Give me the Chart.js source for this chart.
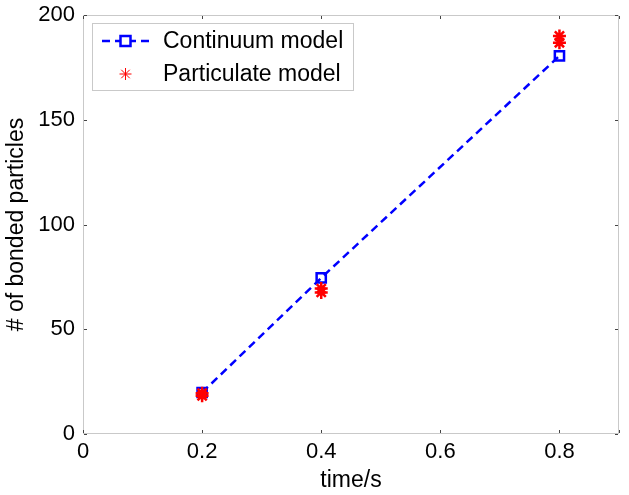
<!DOCTYPE html>
<html>
<head>
<meta charset="utf-8">
<script src="https://cdn.jsdelivr.net/npm/chart.js@4/dist/chart.umd.min.js"></script>
<style>
  html, body { margin: 0; padding: 0; background: #fff; }
  #wrap { width: 629px; height: 495px; }
</style>
</head>
<body>
<div id="wrap"><canvas id="c" width="629" height="495"></canvas></div>
<script>
// ---- data ----
const seriesNames = ['Continuum model', 'Particulate model'];
const continuumTime = [0.2, 0.4, 0.8];
const continuumCount = [19.8, 74.5, 180.5];
const particulateTime = [0.2, 0.2, 0.4, 0.4, 0.8, 0.8];
const particulateCount = [18.2, 19.5, 67.6, 69.4, 186.8, 190.0];
const xTicks = [0, 0.2, 0.4, 0.6, 0.8];
const yTicks = [0, 50, 100, 150, 200];
const xLabel = 'time/s';
const yLabel = '# of bonded particles';

const FONT = 'Arial, "Liberation Sans", Helvetica, sans-serif';
const BLUE = '#0000ff';
const RED = '#ff0000';

const toPts = (xs, ys) => xs.map((x, i) => ({ x: x, y: ys[i] }));

const boxPlugin = {
  id: 'boxAndTicks',
  afterDatasetsDraw(chart) {
    const { ctx, chartArea: a, scales } = chart;
    ctx.save();
    ctx.strokeStyle = '#c9c9c9';
    ctx.lineWidth = 1;
    ctx.strokeRect(a.left + 0.5, a.top + 0.5, a.right - a.left - 1, a.bottom - a.top - 1);
    ctx.strokeStyle = '#444';
    ctx.beginPath();
    const tl = 3;
    xTicks.concat([0.9]).forEach(v => {
      const px = Math.round(scales.x.getPixelForValue(v)) + 0.5;
      ctx.moveTo(px, a.bottom - 1); ctx.lineTo(px, a.bottom - 1 - tl);
      ctx.moveTo(px, a.top + 1); ctx.lineTo(px, a.top + 1 + tl);
    });
    yTicks.forEach(v => {
      const py = Math.round(scales.y.getPixelForValue(v)) + 0.5;
      ctx.moveTo(a.left + 1, py); ctx.lineTo(a.left + 1 + tl, py);
      ctx.moveTo(a.right - 1, py); ctx.lineTo(a.right - 1 - tl, py);
    });
    ctx.stroke();
    ctx.restore();
  },
  afterDraw(chart) {
    const { ctx, chartArea: a } = chart;
    const ds = chart.data.datasets;
    const bx = a.left + 9, by = a.top + 8, bw = 261, bh = 67;
    ctx.save();
    ctx.fillStyle = '#fff';
    ctx.fillRect(bx, by, bw, bh);
    ctx.strokeStyle = '#c9c9c9';
    ctx.lineWidth = 1;
    ctx.strokeRect(bx + 0.5, by + 0.5, bw, bh);
    const rows = [by + 18, by + 51];
    const lx0 = bx + 10, lx1 = bx + 57, mx = (lx0 + lx1) / 2;
    ctx.strokeStyle = ds[0].borderColor;
    ctx.lineWidth = 2.5;
    ctx.setLineDash([8, 5]);
    ctx.beginPath(); ctx.moveTo(lx0, rows[0]); ctx.lineTo(lx1, rows[0]); ctx.stroke();
    ctx.setLineDash([]);
    ctx.fillStyle = '#fff';
    ctx.fillRect(mx - 5, rows[0] - 5, 10, 10);
    ctx.strokeRect(mx - 5, rows[0] - 5, 10, 10);
    ctx.strokeStyle = ds[1].borderColor;
    ctx.lineWidth = 1;
    ctx.beginPath();
    const r = 6;
    for (let k = 0; k < 4; k++) {
      const ang = k * Math.PI / 4;
      ctx.moveTo(mx - r * Math.cos(ang), rows[1] - r * Math.sin(ang));
      ctx.lineTo(mx + r * Math.cos(ang), rows[1] + r * Math.sin(ang));
    }
    ctx.stroke();
    ctx.fillStyle = '#000';
    ctx.font = '23px ' + FONT;
    ctx.textBaseline = 'middle';
    ctx.textAlign = 'left';
    ctx.fillText(seriesNames[0], bx + 71, rows[0] + 1);
    ctx.fillText(seriesNames[1], bx + 71, rows[1] + 1);
    ctx.restore();
  }
};

new Chart(document.getElementById('c'), {
  type: 'scatter',
  data: {
    datasets: [
      {
        label: seriesNames[0],
        data: toPts(continuumTime, continuumCount),
        showLine: true,
        borderColor: BLUE,
        backgroundColor: 'rgba(0,0,0,0)',
        borderWidth: 2.5,
        borderDash: [8, 5],
        pointStyle: 'rect',
        pointRadius: 6.5,
        pointBorderWidth: 2.5,
        pointBorderColor: BLUE,
        pointBackgroundColor: 'rgba(0,0,0,0)',
        order: 1
      },
      {
        label: seriesNames[1],
        data: toPts(particulateTime, particulateCount),
        showLine: false,
        borderColor: RED,
        backgroundColor: RED,
        pointStyle: 'star',
        pointRadius: 6.5,
        pointBorderWidth: 2.5,
        pointBorderColor: RED,
        order: 0
      }
    ]
  },
  options: {
    responsive: false,
    animation: false,
    devicePixelRatio: 1,
    layout: { padding: { top: 15, right: 10, left: 0, bottom: 0 } },
    plugins: { legend: { display: false }, tooltip: { enabled: false } },
    scales: {
      x: {
        type: 'linear',
        min: 0, max: 0.9,
        afterBuildTicks: s => { s.ticks = xTicks.map(v => ({ value: v })); },
        afterFit: s => { s.height = 61; s.paddingLeft = 0; s.paddingRight = 0; },
        grid: { display: false, drawTicks: false },
        border: { display: false },
        ticks: {
          color: '#000', padding: 5,
          font: { family: FONT, size: 22 },
          callback: v => String(Math.round(v * 10) / 10)
        },
        title: {
          display: true, text: xLabel, color: '#000',
          font: { family: FONT, size: 23 },
          padding: { top: 0, bottom: 1 }
        }
      },
      y: {
        type: 'linear',
        min: 0, max: 200,
        afterBuildTicks: s => { s.ticks = yTicks.map(v => ({ value: v })); },
        afterFit: s => { s.width = 83; s.paddingTop = 0; s.paddingBottom = 0; },
        grid: { display: false, drawTicks: false },
        border: { display: false },
        ticks: {
          color: '#000', padding: 8,
          font: { family: FONT, size: 22 }
        },
        title: {
          display: true, text: yLabel, color: '#000',
          font: { family: FONT, size: 23 },
          padding: { top: 3, bottom: 0 }
        }
      }
    }
  },
  plugins: [boxPlugin]
});
</script>
</body>
</html>
